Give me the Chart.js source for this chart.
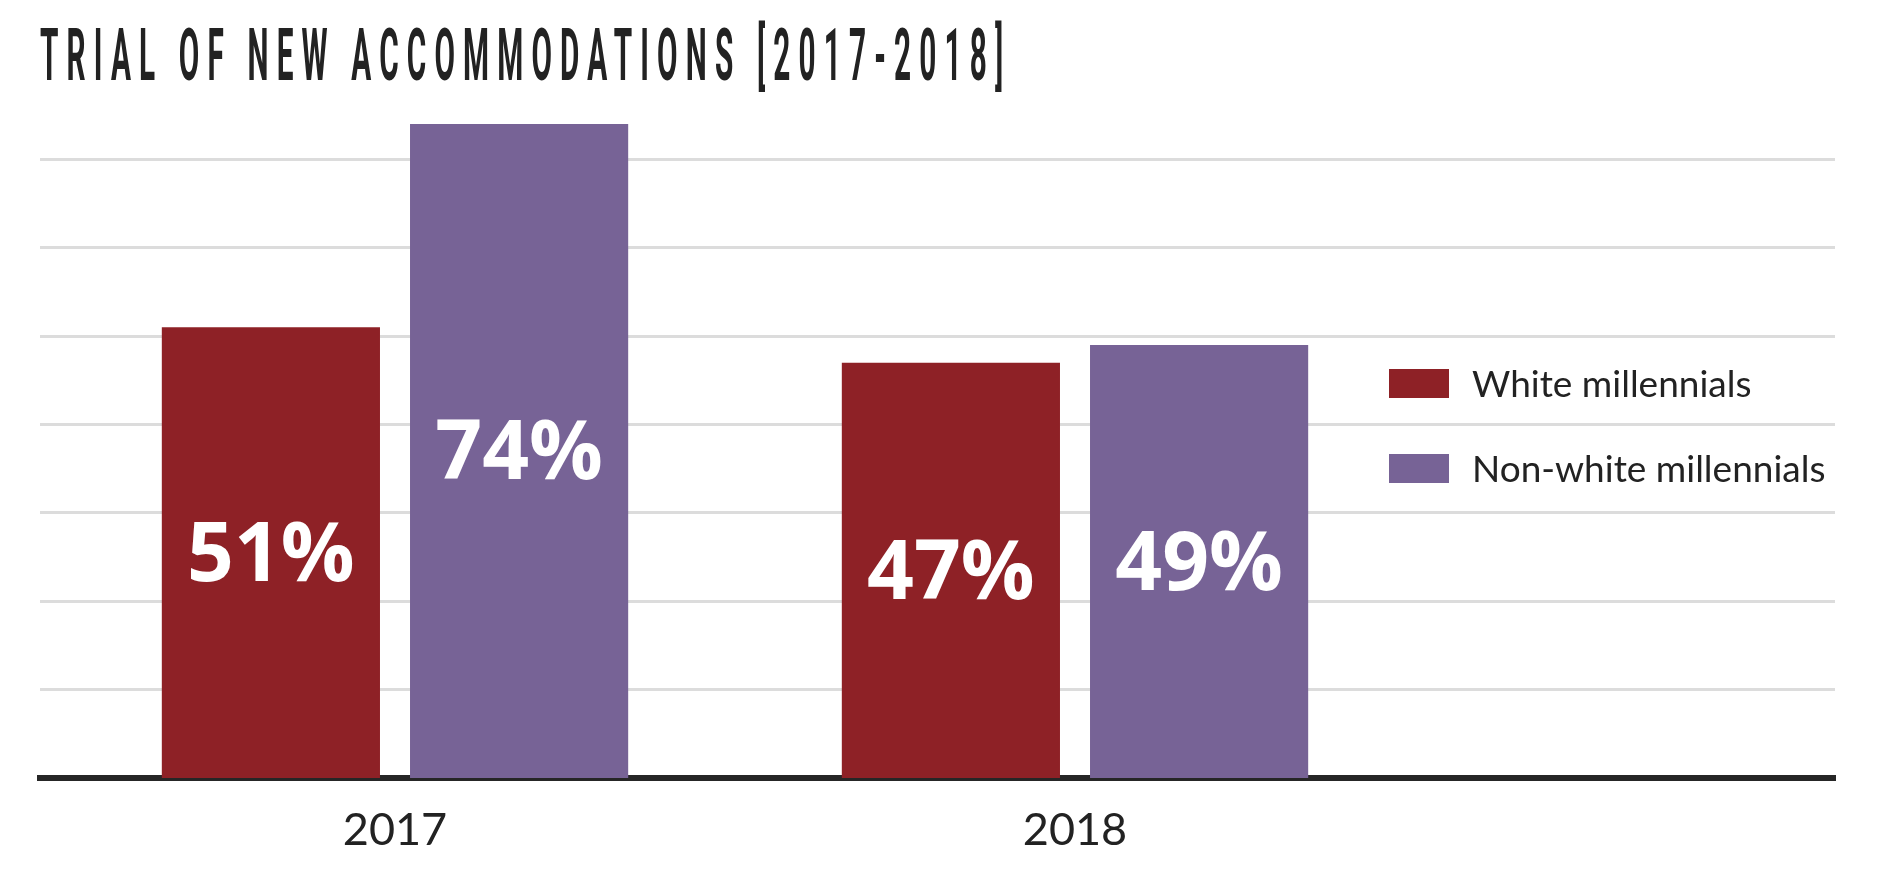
<!DOCTYPE html>
<html>
<head>
<meta charset="utf-8">
<title>Trial of new accommodations</title>
<script src="https://cdn.jsdelivr.net/npm/chart.js@4.4.1/dist/chart.umd.min.js"></script>
<style>
    body { margin: 0; background: #fff; }
    #wrap { position: relative; width: 1884px; height: 871px; }
    #title {
        position: absolute; left: 40px; top: 19px;
        display: inline-block; white-space: nowrap;
        font: 700 73px Roboto, sans-serif; line-height: 73px;
        letter-spacing: 20px; color: #222;
        transform-origin: left top;
    }
</style>
</head>
<body>
<div id="wrap">
    <canvas id="bar-chart" width="1884" height="871"></canvas>
    <div id="title">TRIAL OF NEW ACCOMMODATIONS [2017-2018]</div>
</div>
<script>
// Data
const years = [2017, 2018];
const whiteValues = [51, 47];
const nonWhiteValues = [74, 49];
const seriesNames = ['White millennials', 'Non-white millennials'];
const seriesColors = ['#8e2126', '#776396'];
const gridTicks = [10, 20, 30, 40, 50, 60, 70];

// Title squeezed to the condensed look
const titleEl = document.getElementById('title');
titleEl.style.transform = 'scaleX(' + (963 / (titleEl.offsetWidth - 20)) + ')';

// Percent labels in the middle of each bar
const valueLabels = {
    id: 'valueLabels',
    afterDatasetsDraw(chart) {
        const ctx = chart.ctx;
        ctx.save();
        ctx.fillStyle = '#fff';
        ctx.font = '700 82px "Open Sans"';
        ctx.textAlign = 'center';
        ctx.textBaseline = 'middle';
        chart.data.datasets.forEach(function (ds, i) {
            chart.getDatasetMeta(i).data.forEach(function (bar, j) {
                ctx.fillText(ds.data[j] + '%', bar.x, (bar.y + bar.base) / 2 + 5);
            });
        });
        ctx.restore();
    }
};

// Legend sitting inside the plot, right side
const sideLegend = {
    id: 'sideLegend',
    afterDraw(chart) {
        const ctx = chart.ctx;
        ctx.save();
        ctx.font = '37px Lato';
        ctx.textBaseline = 'alphabetic';
        chart.data.datasets.forEach(function (ds, i) {
            const top = 369 + i * 85;
            ctx.fillStyle = ds.backgroundColor;
            ctx.fillRect(1389, top, 60, 29);
            ctx.fillStyle = '#222';
            ctx.fillText(ds.label, 1472, top + 28);
        });
        ctx.restore();
    }
};

const chartElement = document.getElementById('bar-chart');
new Chart(chartElement, {
    type: 'bar',
    data: {
        labels: years,
        datasets: [{
            label: seriesNames[0],
            data: whiteValues,
            backgroundColor: seriesColors[0]
        }, {
            label: seriesNames[1],
            data: nonWhiteValues,
            backgroundColor: seriesColors[1]
        }]
    },
    options: {
        responsive: false,
        animation: false,
        categoryPercentage: 0.73,
        barPercentage: 0.879,
        layout: { padding: { left: 40, right: 49, top: 71, bottom: -11 } },
        plugins: {
            legend: { display: false },
            tooltip: { enabled: false }
        },
        scales: {
            x: {
                type: 'linear',
                offset: false,
                min: 2017 - 355 / 680,
                max: 2017 - 355 / 680 + 1795 / 680,
                z: 1,
                grid: { display: false, drawTicks: false },
                border: { color: '#262626', width: 6 },
                afterBuildTicks: function (scale) {
                    scale.ticks = years.map(function (y) { return { value: y }; });
                },
                ticks: {
                    autoSkip: false,
                    maxRotation: 0,
                    padding: 25,
                    color: '#222',
                    font: { family: 'Lato', size: 45 },
                    callback: function (v) { return String(v); }
                }
            },
            y: {
                min: 0,
                max: 80,
                afterBuildTicks: function (scale) {
                    scale.ticks = gridTicks.map(function (v) { return { value: v }; });
                },
                grid: { color: '#dcdcdc', lineWidth: 3, drawTicks: false },
                border: { display: false },
                ticks: { display: false }
            }
        }
    },
    plugins: [valueLabels, sideLegend]
});
</script>
</body>
</html>
